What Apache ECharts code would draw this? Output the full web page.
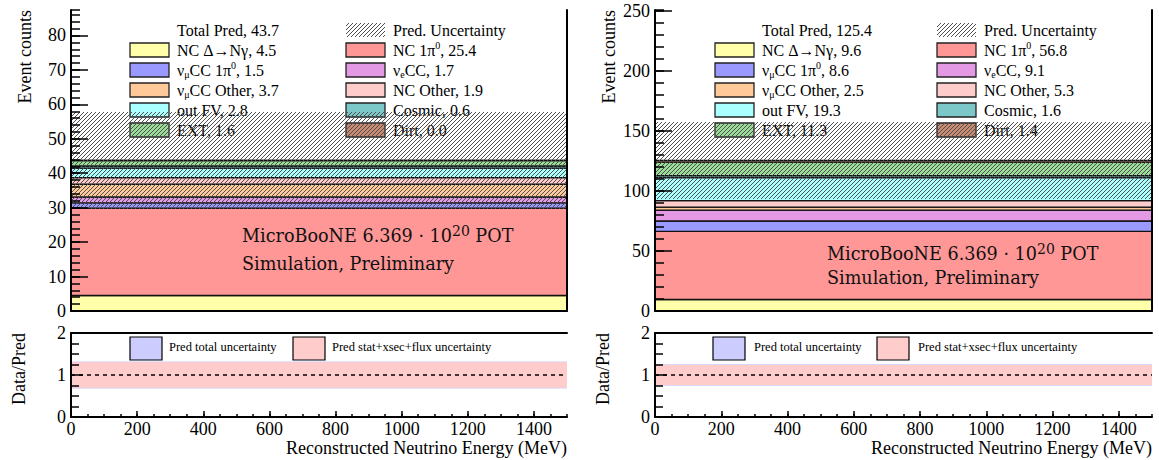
<!DOCTYPE html>
<html>
<head>
<meta charset="utf-8">
<script src="https://cdn.jsdelivr.net/npm/echarts@6/dist/echarts.min.js"></script>
<style>
  html, body { margin: 0; padding: 0; background: #fff; }
  #chart { width: 1159px; height: 460px; }
</style>
</head>
<body>
<div id="chart"></div>
<script>
// ---- data -------------------------------------------------------------
// one reconstructed-energy bin spanning the whole range (MeV)
const binEdges = [0, 1500];

// stacked processes, bottom to top (also the legend order, row by row)
const processLabels = [
  'NC Δ→Nγ', 'NC 1π{sup|0}', 'ν{sub|μ}CC 1π{sup|0}', 'ν{sub|e}CC', 'ν{sub|μ}CC Other',
  'NC Other', 'out FV', 'Cosmic', 'EXT', 'Dirt'
];
const processColors = [
  '#ffffaa', '#ff9797', '#9999ff', '#e499e4', '#ffc999',
  '#ffcccc', '#aaffff', '#7cc7c7', '#99dd99', '#c98b72'
];
// event counts per process
const countsLeft  = [4.5, 25.4, 1.5, 1.7, 3.7, 1.9, 2.8, 0.6, 1.6, 0.0];
const countsRight = [9.6, 56.8, 8.6, 9.1, 2.5, 5.3, 19.3, 1.6, 11.3, 1.4];
const totalPred   = [43.7, 125.4];
// absolute prediction uncertainty on the total
const predUnc     = [14.1, 32.0];
// relative bands in the ratio panel
const ratioTotalUnc = [0.323, 0.255];
const ratioXsecUnc  = [0.305, 0.240];
const ratioRef = 1;

// axis ticks
const xTickStep = 200, xMinorStep = 50;
const yTickStep = [10, 50], yMinorStep = [2, 10];
const ratioTicks = [0, 1, 2];

// ---- styling helpers --------------------------------------------------
const SERIF = '"Liberation Serif", "Times New Roman", serif';
const TAGFONT = '"DejaVu Serif", serif';

function hatchTile() {
  const c = document.createElement('canvas');
  c.width = 4; c.height = 4;
  const g = c.getContext('2d');
  g.strokeStyle = '#505050';
  g.lineWidth = 1;
  g.beginPath();
  g.moveTo(0, 4); g.lineTo(4, 0);
  g.moveTo(-1, 1); g.lineTo(1, -1);
  g.moveTo(3, 5); g.lineTo(5, 3);
  g.stroke();
  return c;
}
const hatchFill = { image: hatchTile(), repeat: 'repeat', imageWidth: 4, imageHeight: 4 };

// panel geometry (pixels)
const panels = [
  { left: 71,  width: 496, legend: { box1: 130, text1: 177, box2: 346, text2: 393 },
    ratioLegend: { box1: 130, text1: 169, box2: 293, text2: 332 },
    yTitleX: 25, ratioTitleX: 19, tagX: 242, tagY: 236, tagLH: 28 },
  { left: 655, width: 497, legend: { box1: 715, text1: 762, box2: 937, text2: 984 },
    ratioLegend: { box1: 713, text1: 754, box2: 877, text2: 918 },
    yTitleX: 609, ratioTitleX: 603, tagX: 827, tagY: 254, tagLH: 23.5 }
];
const topY = 10, topH = 301, ratioY = 333, ratioH = 84;

const rich = {
  sub: { fontSize: 10, fontFamily: SERIF, verticalAlign: 'bottom', lineHeight: 19 },
  sup: { fontSize: 10, fontFamily: SERIF, verticalAlign: 'top', lineHeight: 19 }
};
const plainNum = v => String(v);

// ---- builders ---------------------------------------------------------
function rectSeries(xi, yi, ranges, fills, stroke, lw, z) {
  return {
    type: 'custom', xAxisIndex: xi, yAxisIndex: yi, z: z, silent: true,
    data: ranges.map((r, i) => [binEdges[0], binEdges[1], r[0], r[1], i]),
    encode: { x: [0, 1], y: [2, 3] },
    renderItem(params, api) {
      const p0 = api.coord([api.value(0), api.value(2)]);
      const p1 = api.coord([api.value(1), api.value(3)]);
      return {
        type: 'rect',
        shape: { x: p0[0], y: p1[1], width: p1[0] - p0[0], height: p0[1] - p1[1] },
        style: { fill: fills[api.value(4)], stroke: stroke, lineWidth: lw }
      };
    }
  };
}

const grids = [], xAxes = [], yAxes = [], series = [], graphics = [];
const noLine = { show: false }, noTick = { show: false }, noLabel = { show: false }, noSplit = { show: false };
const frameLine = { show: true, lineStyle: { color: '#000', width: 2 } };

panels.forEach((pn, k) => {
  const counts = k === 0 ? countsLeft : countsRight;
  const yMax = 2 * totalPred[k];
  const gTop = grids.length;
  grids.push({ left: pn.left, top: topY, width: pn.width, height: topH, outerBoundsMode: 'none', containLabel: false });
  grids.push({ left: pn.left, top: ratioY, width: pn.width, height: ratioH, outerBoundsMode: 'none', containLabel: false });
  const gRat = gTop + 1;

  // --- top panel axes
  const xMainTop = xAxes.length;
  xAxes.push({ gridIndex: gTop, type: 'value', position: 'bottom', min: binEdges[0], max: binEdges[1], z: 10,
    axisLine: { show: true, lineStyle: { color: '#e05a5a', width: 1.5 } },
    axisTick: noTick, axisLabel: noLabel, splitLine: noSplit });
  xAxes.push({ gridIndex: gTop, type: 'value', position: 'top', min: binEdges[0], max: binEdges[1], z: 10,
    axisLine: frameLine, axisTick: noTick, axisLabel: noLabel, splitLine: noSplit });
  const yMainTop = yAxes.length;
  yAxes.push({ gridIndex: gTop, type: 'value', position: 'left', min: 0, max: yMax, interval: yTickStep[k], z: 10,
    axisLine: frameLine,
    axisTick: { show: true, inside: true, length: 17, lineStyle: { color: '#000', width: 1.5 } },
    axisLabel: { showMaxLabel: false, margin: 5, color: '#000', fontSize: 18, fontFamily: SERIF, formatter: plainNum },
    splitLine: noSplit });
  yAxes.push({ gridIndex: gTop, type: 'value', position: 'left', min: 0, max: yMax, interval: yMinorStep[k], z: 10,
    axisLine: noLine,
    axisTick: { show: true, inside: true, length: 9, lineStyle: { color: '#000', width: 1.5 } },
    axisLabel: noLabel, splitLine: noSplit });
  yAxes.push({ gridIndex: gTop, type: 'value', position: 'right', min: 0, max: yMax, z: 10,
    axisLine: frameLine, axisTick: noTick, axisLabel: noLabel, splitLine: noSplit });

  // --- ratio panel axes
  const xMainRat = xAxes.length;
  xAxes.push({ gridIndex: gRat, type: 'value', position: 'bottom', min: binEdges[0], max: binEdges[1], interval: xTickStep, z: 10,
    axisLine: frameLine,
    axisTick: { show: true, inside: true, length: 6, lineStyle: { color: '#000', width: 1.5 } },
    axisLabel: { showMaxLabel: false, margin: 3, color: '#000', fontSize: 18, fontFamily: SERIF, formatter: plainNum },
    splitLine: noSplit });
  xAxes.push({ gridIndex: gRat, type: 'value', position: 'bottom', min: binEdges[0], max: binEdges[1], interval: xMinorStep, z: 10,
    axisLine: noLine,
    axisTick: { show: true, inside: true, length: 3, lineStyle: { color: '#000', width: 1.5 } },
    axisLabel: noLabel, splitLine: noSplit });
  xAxes.push({ gridIndex: gRat, type: 'value', position: 'top', min: binEdges[0], max: binEdges[1], z: 10,
    axisLine: frameLine, axisTick: noTick, axisLabel: noLabel, splitLine: noSplit });
  const yMainRat = yAxes.length;
  yAxes.push({ gridIndex: gRat, type: 'value', position: 'left',
    min: ratioTicks[0], max: ratioTicks[ratioTicks.length - 1], interval: ratioTicks[1] - ratioTicks[0], z: 10,
    axisLine: frameLine,
    axisTick: { show: true, inside: true, length: 12, lineStyle: { color: '#000', width: 1.5 } },
    minorTick: { show: true, splitNumber: 4, length: 8, lineStyle: { color: '#000', width: 1.5 } },
    axisLabel: { margin: 5, color: '#000', fontSize: 18, fontFamily: SERIF, formatter: plainNum },
    splitLine: noSplit, minorSplitLine: noSplit });
  yAxes.push({ gridIndex: gRat, type: 'value', position: 'right',
    min: ratioTicks[0], max: ratioTicks[ratioTicks.length - 1], z: 10,
    axisLine: frameLine, axisTick: noTick, axisLabel: noLabel, splitLine: noSplit });

  // --- stacked prediction
  const ranges = [];
  let acc = 0;
  counts.forEach(v => { ranges.push([acc, acc + v]); acc += v; });
  series.push(rectSeries(xMainTop, yMainTop, ranges, processColors, '#111', 1.3, 2));
  // --- prediction uncertainty band
  series.push(rectSeries(xMainTop, yMainTop,
    [[totalPred[k] - predUnc[k], totalPred[k] + predUnc[k]]], [hatchFill], null, 0, 6));

  // --- ratio bands
  series.push(rectSeries(xMainRat, yMainRat,
    [[ratioRef - ratioTotalUnc[k], ratioRef + ratioTotalUnc[k]]], ['#ccccff'], null, 0, 2));
  series.push(rectSeries(xMainRat, yMainRat,
    [[ratioRef - ratioXsecUnc[k], ratioRef + ratioXsecUnc[k]]], ['#ffcccc'], null, 0, 3));
  series.push({ type: 'line', xAxisIndex: xMainRat, yAxisIndex: yMainRat, z: 4, silent: true,
    symbol: 'none', data: [[binEdges[0], ratioRef], [binEdges[1], ratioRef]],
    lineStyle: { color: '#000', width: 1.5, type: [4, 4] } });

  // --- legend of the stack
  const L = pn.legend;
  const rowY = i => 30 + 20 * (Math.floor(i / 2) + 1);
  graphics.push({ type: 'text', z: 4, x: L.text1, y: 30,
    style: { text: 'Total Pred, ' + totalPred[k].toFixed(1), fill: '#000', font: '16px ' + SERIF, verticalAlign: 'middle' } });
  graphics.push({ type: 'rect', z: 4, shape: { x: L.box2, y: 23, width: 39, height: 14 },
    style: { fill: hatchFill, stroke: null } });
  graphics.push({ type: 'text', z: 4, x: L.text2, y: 30,
    style: { text: 'Pred. Uncertainty', fill: '#000', font: '16px ' + SERIF, verticalAlign: 'middle' } });
  processLabels.forEach((lab, i) => {
    const col = i % 2;
    const y = rowY(i);
    graphics.push({ type: 'rect', z: 4,
      shape: { x: col ? L.box2 : L.box1, y: y - 7, width: 39, height: 14 },
      style: { fill: processColors[i], stroke: '#222', lineWidth: 1.3 } });
    graphics.push({ type: 'text', z: 4, x: col ? L.text2 : L.text1, y: y,
      style: { text: lab + ', ' + counts[i].toFixed(1), rich: rich, fill: '#000',
               font: '16px ' + SERIF, verticalAlign: 'middle', lineHeight: 19 } });
  });

  // --- ratio legend
  const R = pn.ratioLegend;
  [['Pred total uncertainty', '#ccccff', R.box1, R.text1], ['Pred stat+xsec+flux uncertainty', '#ffcccc', R.box2, R.text2]]
    .forEach(([t, c, bx, tx]) => {
      graphics.push({ type: 'rect', z: 5, shape: { x: bx, y: 337, width: 32, height: 23 },
        style: { fill: c, stroke: '#000', lineWidth: 1.2 } });
      graphics.push({ type: 'text', z: 5, x: tx, y: 347,
        style: { text: t, fill: '#000', font: '12.5px ' + SERIF, verticalAlign: 'middle' } });
    });

  // --- axis titles
  graphics.push({ type: 'text', z: 5, x: pn.yTitleX, y: topY, rotation: Math.PI / 2,
    style: { text: 'Event counts', fill: '#000', font: '18px ' + SERIF, align: 'right', verticalAlign: 'middle' } });
  graphics.push({ type: 'text', z: 5, x: pn.ratioTitleX, y: ratioY, rotation: Math.PI / 2,
    style: { text: 'Data/Pred', fill: '#000', font: '18px ' + SERIF, align: 'right', verticalAlign: 'middle' } });
  graphics.push({ type: 'text', z: 5, x: pn.left + pn.width, y: 448,
    style: { text: 'Reconstructed Neutrino Energy (MeV)', fill: '#000', font: '18px ' + SERIF, align: 'right', verticalAlign: 'middle' } });

  // --- experiment tag
  graphics.push({ type: 'text', z: 5, x: pn.tagX, y: pn.tagY - pn.tagLH / 2,
    style: { text: 'MicroBooNE 6.369 · 10{sp|20} POT\nSimulation, Preliminary', fill: '#111',
             font: '17.6px ' + TAGFONT, verticalAlign: 'top', lineHeight: pn.tagLH,
             rich: { sp: { fontSize: 14, fontFamily: TAGFONT, fill: '#111', verticalAlign: 'middle',
                           lineHeight: 14, padding: [0, 0, 10, 0] } } } });
});

const chart = echarts.init(document.getElementById('chart'), null, { renderer: 'svg' });
chart.setOption({
  animation: false,
  backgroundColor: '#fff',
  grid: grids,
  xAxis: xAxes,
  yAxis: yAxes,
  series: series,
  graphic: { elements: graphics }
});
</script>
</body>
</html>
